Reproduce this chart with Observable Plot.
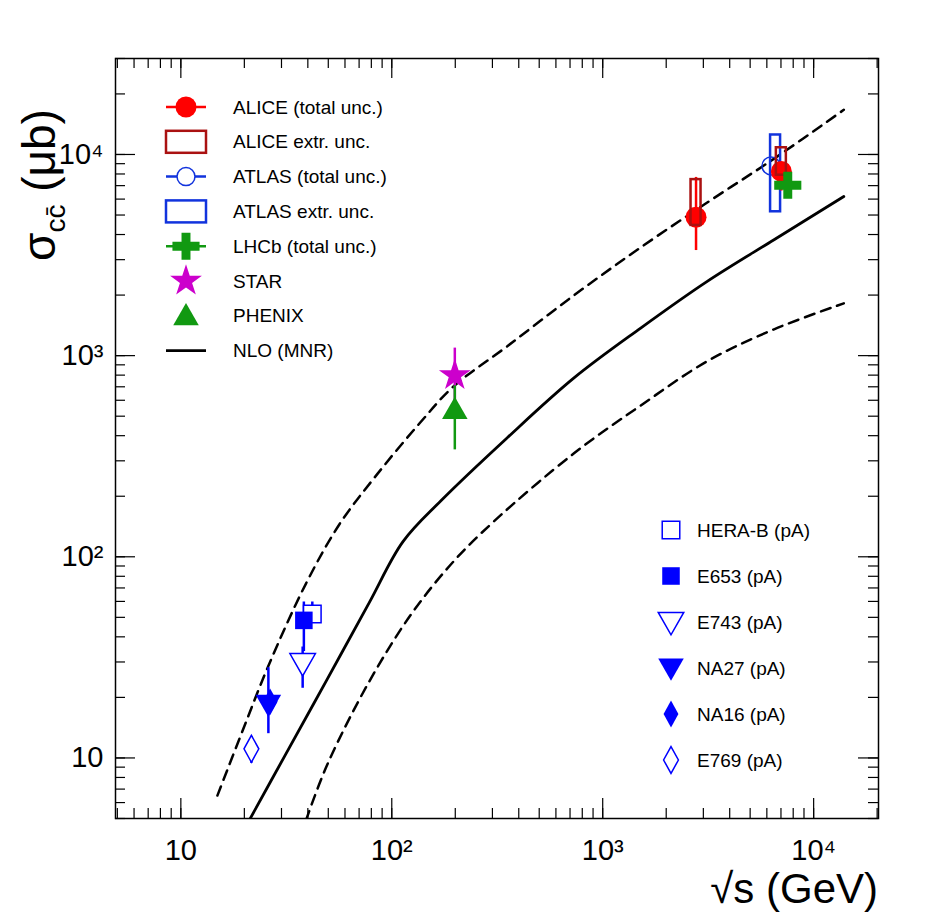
<!DOCTYPE html>
<html><head><meta charset="utf-8">
<script src="https://cdn.jsdelivr.net/npm/d3@7"></script>
<script src="https://cdn.jsdelivr.net/npm/@observablehq/plot@0.6"></script>
<style>body{margin:0;background:#fff;font-family:"Liberation Sans",Arial,sans-serif}</style>
</head><body><div id="chart"></div>
<script>
// NLO (MNR) curves: [sqrt(s) GeV, sigma ub]
const nloCentral = [[21.1,4.9],[31.2,10.3],[49.3,24.5],[78.2,59.2],[113,119],[171,190],[353,391],[731,775],[1514,1371],[3130,2340],[6490,3770],[13900,6180]];
const nloUpper = [[14.9,6.5],[19.7,13.8],[25.9,28.4],[39.2,73.6],[56.6,145.6],[85.7,259],[135.5,461],[195.5,700],[353,1114],[731,1995],[1514,3450],[3130,5770],[6490,9530],[13900,16670]];
const nloLower = [[39.2,4.9],[49.3,9.2],[78.2,24.0],[123.6,51.8],[195.5,94.4],[305,150],[731,327],[1514,565],[3130,938],[6490,1352],[13900,1820]];
// points: x, y, errLow, errHigh
const alice = [{x:2770,y:4880,lo:3330,hi:7690},{x:7030,y:8240,lo:6580,hi:8240}];
const aliceBox = [{x:2770,lo:4440,hi:7500},{x:7030,lo:7890,hi:10800}];
const atlas = [{x:6280,y:8770,lo:8770,hi:8770}];
const atlasBox = [{x:6600,lo:5190,hi:12500}];
const lhcb = [{x:7540,y:7030,lo:7030,hi:7030}];
const star = [{x:199,y:798,lo:518,hi:1090}];
const phenix = [{x:199,y:540,lo:340,hi:708}];
const heraB = [{x:42,y:52,lo:52,hi:59.6}];
const e653 = [{x:38.3,y:48.3,lo:33.8,hi:59.6}];
const e743 = [{x:37.8,y:29.6,lo:22.2,hi:35.6}];
const na27 = [{x:26,y:18.5,lo:13.2,hi:28.1}];
const na16 = [{x:26.5,y:19,lo:19,hi:19}];
const e769 = [{x:21.6,y:11.1,lo:9.4,hi:12.8}];
const xMajor = [10,100,1000,10000];
const xLabels = ["10","10²","10³","10⁴"];
const yMajor = [10,100,1000,10000];
const yLabels = ["10","10²","10³","10⁴"];

const W=950,H=921, mL=115, mR=72, mT=58, mB=103;
const xDom=[4.9,2.03e4], yDom=[5,3e4];
const pxX = Math.log10(xDom[1]/xDom[0])/(W-mL-mR);
const pxY = Math.log10(yDom[1]/yDom[0])/(H-mT-mB);
const fx = px=>Math.pow(10,px*pxX), fy = px=>Math.pow(10,px*pxY);

const xMinor=[], yMinor=[];
for (let d=1; d<=10000; d*=10) for (let k=1;k<10;k++){const v=d*k; if(v>=xDom[0]&&v<=xDom[1]) xMinor.push(v); if(v>=yDom[0]&&v<=yDom[1]) yMinor.push(v);}

const diamondTall = {draw(ctx,size){const h=Math.sqrt(size)*0.95, w=h*0.55; ctx.moveTo(0,-h);ctx.lineTo(w,0);ctx.lineTo(0,h);ctx.lineTo(-w,0);ctx.closePath();}};
const triDown = {draw(ctx,size){const s=Math.sqrt(size)*0.8; ctx.moveTo(-s,-s*0.75);ctx.lineTo(s,-s*0.75);ctx.lineTo(0,s);ctx.closePath();}};
const triUp = {draw(ctx,size){const s=Math.sqrt(size)*0.8; ctx.moveTo(-s,s*0.75);ctx.lineTo(s,s*0.75);ctx.lineTo(0,-s);ctx.closePath();}};
const crossF = {draw(ctx,size){const a=Math.sqrt(size)*0.85,b=a*0.33; ctx.moveTo(-a,-b);ctx.lineTo(-b,-b);ctx.lineTo(-b,-a);ctx.lineTo(b,-a);ctx.lineTo(b,-b);ctx.lineTo(a,-b);ctx.lineTo(a,b);ctx.lineTo(b,b);ctx.lineTo(b,a);ctx.lineTo(-b,a);ctx.lineTo(-b,b);ctx.lineTo(-a,b);ctx.closePath();}};
const squareS = {draw(ctx,size){const s=Math.sqrt(size)*0.55; ctx.rect(-s,-s,2*s,2*s);}};

const toObj = a=>a.map(([x,y])=>({x,y}));
const err = (d,c,w=2.5)=>Plot.ruleX(d,{x:"x",y1:"lo",y2:"hi",stroke:c,strokeWidth:w});
const bw = fx(5);
const box = (d,c)=>Plot.rect(d,{x1:d=>d.x/bw,x2:d=>d.x*bw,y1:"lo",y2:"hi",fill:"none",stroke:c,strokeWidth:2.5});

const tk = fx(20), tkm=fx(10), tky=fy(20), tkym=fy(10);
const plot = Plot.plot({
  width:W, height:H, marginLeft:mL, marginRight:mR, marginTop:mT, marginBottom:mB,
  style:{fontFamily:"Liberation Sans, Arial, sans-serif", background:"white", overflow:"visible"},
  x:{type:"log", domain:xDom, axis:null},
  y:{type:"log", domain:yDom, axis:null},
  marks:[
    Plot.frame({stroke:"black",strokeWidth:1.5}),
    Plot.ruleX(xMajor,{x:d=>d,y1:yDom[0],y2:yDom[0]*tky,stroke:"black",strokeWidth:1.2}),
    Plot.ruleX(xMinor,{x:d=>d,y1:yDom[0],y2:yDom[0]*tkym,stroke:"black",strokeWidth:1.2}),
    Plot.ruleX(xMajor,{x:d=>d,y1:yDom[1],y2:yDom[1]/tky,stroke:"black",strokeWidth:1.2}),
    Plot.ruleX(xMinor,{x:d=>d,y1:yDom[1],y2:yDom[1]/tkym,stroke:"black",strokeWidth:1.2}),
    Plot.ruleY(yMajor,{y:d=>d,x1:xDom[0],x2:xDom[0]*tk,stroke:"black",strokeWidth:1.2}),
    Plot.ruleY(yMinor,{y:d=>d,x1:xDom[0],x2:xDom[0]*tkm,stroke:"black",strokeWidth:1.2}),
    Plot.ruleY(yMajor,{y:d=>d,x1:xDom[1],x2:xDom[1]/tk,stroke:"black",strokeWidth:1.2}),
    Plot.ruleY(yMinor,{y:d=>d,x1:xDom[1],x2:xDom[1]/tkm,stroke:"black",strokeWidth:1.2}),
    Plot.text(xMajor,{x:d=>d,y:yDom[0],text:(d,i)=>xLabels[i],dy:32,fontSize:29,fill:"black"}),
    Plot.text(yMajor,{y:d=>d,x:xDom[0],text:(d,i)=>yLabels[i],dx:-12,textAnchor:"end",fontSize:29,fill:"black"}),
    Plot.line(toObj(nloUpper),{x:"x",y:"y",stroke:"black",strokeWidth:2.5,strokeDasharray:"10,7",curve:"catmull-rom",clip:true}),
    Plot.line(toObj(nloLower),{x:"x",y:"y",stroke:"black",strokeWidth:2.5,strokeDasharray:"10,7",curve:"catmull-rom",clip:true}),
    Plot.line(toObj(nloCentral),{x:"x",y:"y",stroke:"black",strokeWidth:2.8,curve:"catmull-rom",clip:true}),
    err(star,"#cc00cc"), err(phenix,"#119911"),
    Plot.dot(phenix,{x:"x",y:"y",symbol:triUp,r:9,fill:"#119911",stroke:"none"}),
    Plot.dot(star,{x:"x",y:"y",symbol:"star",r:10,fill:"#cc00cc",stroke:"none"}),
    err(e769,"blue"), err(na27,"blue"), err(e743,"blue"), err(e653,"blue"), err(heraB,"blue"),
    Plot.dot(e769,{x:"x",y:"y",symbol:diamondTall,r:8,fill:"white",stroke:"blue",strokeWidth:1.5}),
    Plot.dot(na16,{x:"x",y:"y",symbol:diamondTall,r:8,fill:"blue",stroke:"none"}),
    Plot.dot(na27,{x:"x",y:"y",symbol:triDown,r:9,fill:"blue",stroke:"none"}),
    Plot.dot(e743,{x:"x",y:"y",symbol:triDown,r:9,fill:"white",stroke:"blue",strokeWidth:1.5}),
    Plot.dot(heraB,{x:"x",y:"y",symbol:squareS,r:9,fill:"white",stroke:"blue",strokeWidth:1.5}),
    Plot.dot(e653,{x:"x",y:"y",symbol:squareS,r:9,fill:"blue",stroke:"none"}),
    box(atlasBox,"#1133dd"),
    Plot.dot(atlas,{x:"x",y:"y",r:9,fill:"none",stroke:"#1133dd",strokeWidth:1.5}),
    err(alice,"red"),
    Plot.dot(alice,{x:"x",y:"y",r:10.5,fill:"red",stroke:"none"}),
    box(aliceBox,"#aa1111"),
    Plot.dot(lhcb,{x:"x",y:"y",symbol:crossF,r:9,fill:"#119911",stroke:"none"})
  ]
});
document.getElementById("chart").appendChild(plot);
const svg = d3.select(plot);
const L1 = [
 {t:"ALICE (total unc.)",k:"circ",c:"red"},
 {t:"ALICE extr. unc.",k:"box",c:"#aa1111"},
 {t:"ATLAS (total unc.)",k:"ocirc",c:"#1133dd"},
 {t:"ATLAS extr. unc.",k:"box",c:"#1133dd"},
 {t:"LHCb (total unc.)",k:"cross",c:"#119911"},
 {t:"STAR",k:"star",c:"#cc00cc"},
 {t:"PHENIX",k:"tri",c:"#119911"},
 {t:"NLO (MNR)",k:"line",c:"black"}];
const g = svg.append("g").attr("text-anchor","start");
L1.forEach((d,i)=>{
  const y = 107 + i*34.8, x=186;
  if (d.k==="circ"||d.k==="ocirc"||d.k==="cross") g.append("line").attr("x1",166).attr("x2",206).attr("y1",y).attr("y2",y).attr("stroke",d.c).attr("stroke-width",2.5);
  if (d.k==="circ") g.append("circle").attr("cx",x).attr("cy",y).attr("r",10.5).attr("fill",d.c);
  if (d.k==="ocirc") g.append("circle").attr("cx",x).attr("cy",y).attr("r",9).attr("fill","white").attr("stroke",d.c).attr("stroke-width",1.5);
  if (d.k==="box") g.append("rect").attr("x",166).attr("y",y-11).attr("width",40).attr("height",22).attr("fill","none").attr("stroke",d.c).attr("stroke-width",2.5);
  if (d.k==="cross") g.append("path").attr("transform",`translate(${x},${y})`).attr("d",d3.symbol(crossF,Math.PI*81)()).attr("fill",d.c);
  if (d.k==="star") g.append("path").attr("transform",`translate(${x},${y})`).attr("d",d3.symbol(d3.symbolStar,Math.PI*100)()).attr("fill",d.c);
  if (d.k==="tri") g.append("path").attr("transform",`translate(${x},${y})`).attr("d",d3.symbol(triUp,Math.PI*81)()).attr("fill",d.c);
  if (d.k==="line") g.append("line").attr("x1",166).attr("x2",206).attr("y1",y).attr("y2",y).attr("stroke","black").attr("stroke-width",2.8);
  g.append("text").attr("x",233).attr("y",y).attr("dy","0.35em").attr("font-size",19).attr("text-anchor","start").text(d.t);
});
const L2 = [
 {t:"HERA-B (pA)",s:squareS,f:"white"},{t:"E653 (pA)",s:squareS,f:"blue"},
 {t:"E743 (pA)",s:triDown,f:"white"},{t:"NA27 (pA)",s:triDown,f:"blue"},
 {t:"NA16 (pA)",s:diamondTall,f:"blue"},{t:"E769 (pA)",s:diamondTall,f:"white"}];
L2.forEach((d,i)=>{
  const y=530+i*46, x=671;
  const size = d.s===diamondTall? Math.PI*64 : Math.PI*81;
  g.append("path").attr("transform",`translate(${x},${y})`).attr("d",d3.symbol(d.s,size)()).attr("fill",d.f).attr("stroke",d.f==="white"?"blue":"none").attr("stroke-width",1.5);
  g.append("text").attr("x",697).attr("y",y).attr("dy","0.35em").attr("font-size",19).attr("text-anchor","start").text(d.t);
});
const yt = svg.append("text").attr("transform","translate(55,185) rotate(-90)").attr("font-size",46).attr("text-anchor","middle");
yt.append("tspan").text("σ");
yt.append("tspan").attr("font-size",28).attr("dy",10).text("cc\u0304");
yt.append("tspan").attr("dy",-10).text(" (μb)");
svg.append("text").attr("x",878).attr("y",903).attr("text-anchor","end").attr("font-size",42).text("√s (GeV)");
</script></body></html>
